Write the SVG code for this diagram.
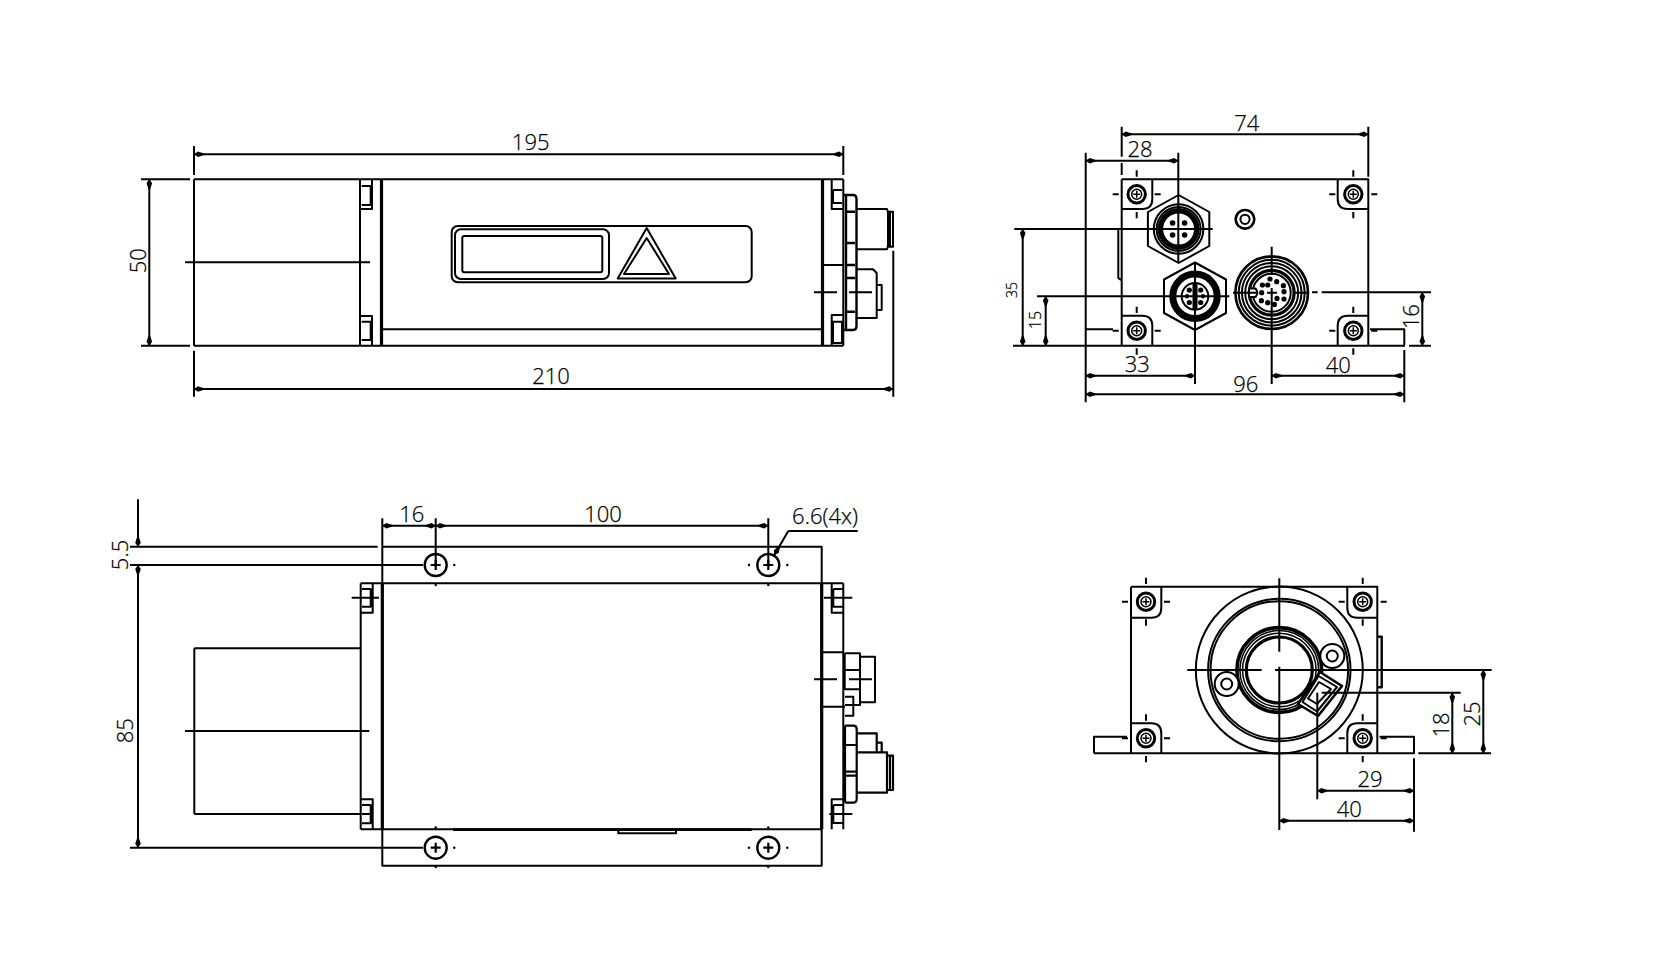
<svg xmlns="http://www.w3.org/2000/svg" width="1666" height="955" viewBox="0 0 1666 955">
<style>
.l{fill:none;stroke:#000;stroke-width:2;stroke-linejoin:round}
.w{fill:#fff;stroke:#000;stroke-width:2;stroke-linejoin:round}
.t{fill:none;stroke:#000;stroke-width:3.2;stroke-linejoin:round}
.n{fill:none;stroke:#000;stroke-width:1.5}
.d{fill:#000;stroke:none}
.a{marker-start:url(#ah);marker-end:url(#ah)}
.e{marker-end:url(#ah)}
text{font-family:"Open Sans","Noto Sans","DejaVu Sans",sans-serif;font-weight:300;font-size:22px;fill:#000;stroke:#000;stroke-width:.25;text-anchor:middle}
</style>
<defs>
<marker id="ah" markerUnits="userSpaceOnUse" markerWidth="12" markerHeight="8" refX="10" refY="4" orient="auto-start-reverse" overflow="visible"><path d="M10,4 L6,1.2 L0,3.2 L0,4.8 L6,6.8Z" fill="#000"/></marker>
<g id="screw">
<circle class="w" r="8.7" style="stroke-width:3"/><circle class="n" r="5"/><path class="n" d="M-3.5,0H3.5M0,-3.5V3.5"/>
<path class="l" d="M0,-24V-17.6M0,17.6V24M-24,0H-18M18,0H24"/>
</g>
<g id="hole"><circle class="w" r="11" style="stroke-width:2.4"/><path class="l" d="M-5,0H5M0,-5V5" style="stroke-width:2.2"/></g>
</defs>

<g id="front-view">
<path class="l" d="M194,179.3H843.3M194,345.7H843.3M194,179.3V345.7M360,179.3V345.7M185,262.3H370M382,329.3H822"/>
<path class="t" d="M381.5,179.3V345.7M822.5,179.3V345.7"/>
<path class="l" d="M360,209H372V179.3M361.7,186H370.7V205H361.7M360,316H372V345.7M361.7,321.7H370.7V340H361.7"/>
<rect class="l" x="451.7" y="226" width="300" height="56.3" rx="6"/>
<rect class="l" x="455" y="229.3" width="154" height="49.7" rx="6"/>
<rect class="l" x="462.3" y="236" width="140" height="36.3" rx="2"/>
<path class="l" d="M646.7,228L675.7,278.5H617.7Z"/>
<path class="l" d="M646.7,238L669,274H624Z"/>
<path class="l" d="M823,265H843M843.3,179.3V345.7M831.7,179.3V209H843M833,190V203H842M833,190H842M831.7,345.7V315H843M833,321.7H842V343H833Z"/>
<path class="l" d="M844,195H853Q856.5,195 856.5,199V326Q856.5,330 853,330H844M846,196V329M846,211.7H855M846,243H855M846,265H855M846,278H855M846,311.7H855" style="stroke-width:2.4"/>
<path class="l" d="M857,209H887L888,212V246L887,249.3H857M887,211.7H893V246.7H887M890,211.7V246.7M857,269.3H873L876.7,273V318H857M876.7,285H881.7V310H876.7M814,292.3H837M849,292.3H872"/>
</g>

<g id="right-view">
<path class="l" d="M1121.7,179.3H1368.3V345.7M1121.7,179.3V345.7M1013,345.7H1405M1085.7,329.3H1113M1370,329.3H1404.3V345M1118.3,229V278L1121,280"/>
<path class="l" d="M1121.7,209H1142.3Q1152.3,209 1152.3,199V179.3M1368.3,209H1347.7Q1337.7,209 1337.7,199V179.3M1121.7,315.7H1142.3Q1152.3,315.7 1152.3,325.7V345.7M1368.3,315.7H1347.7Q1337.7,315.7 1337.7,325.7V345.7"/>
<use href="#screw" x="1136.7" y="194.3"/><use href="#screw" x="1353.3" y="194.3"/><use href="#screw" x="1136.7" y="330.7"/><use href="#screw" x="1353.3" y="330.7"/>
<g id="conn-a">
<polygon class="l" points="1178.6,195 1209.3,212 1209.3,246 1178.6,263 1147.9,246 1147.9,212"/>
<circle class="l" cx="1178.6" cy="229" r="24.8"/><circle class="l" cx="1178.6" cy="229" r="22"/>
<circle cx="1178.6" cy="229" r="18.2" fill="none" stroke="#000" stroke-width="5.5"/>
<g class="d"><circle cx="1172.6" cy="223" r="2.8"/><circle cx="1184.6" cy="223" r="2.8"/><circle cx="1172.6" cy="235" r="2.8"/><circle cx="1184.6" cy="235" r="2.8"/></g>
</g>
<g id="conn-b">
<polygon class="l" points="1195,262.5 1226,279.5 1226,313 1195,330 1164,313 1164,279.5"/>
<circle cx="1195" cy="296.3" r="22.2" fill="none" stroke="#000" stroke-width="7"/>
<circle class="l" cx="1195" cy="296.3" r="13.3"/>
<g class="d"><circle cx="1189.3" cy="290" r="2.6"/><circle cx="1200.7" cy="290" r="2.6"/><circle cx="1189.3" cy="302.5" r="2.6"/><circle cx="1200.7" cy="302.5" r="2.6"/><circle cx="1187" cy="296.3" r="2.2"/><circle cx="1203" cy="296.3" r="2.2"/><rect x="1192.5" y="284" width="5" height="25"/></g>
</g>
<g id="conn-c">
<circle cx="1271.7" cy="292.7" r="36.3" fill="none" stroke="#000" stroke-width="2.6"/>
<circle class="l" cx="1271.7" cy="292.7" r="33"/><circle class="l" cx="1271.7" cy="292.7" r="29.8"/><circle class="l" cx="1271.7" cy="292.7" r="26.5"/>
<circle class="t" cx="1271.7" cy="292.7" r="22.4"/><circle class="l" cx="1271.7" cy="292.7" r="19"/>
<path d="M1250,288.5H1255.5Q1259,292.7 1255.5,297H1250Z" fill="#fff"/><path class="l" d="M1250,288.5H1255.5Q1259,292.7 1255.5,297H1250"/>
<g class="d"><circle cx="1270" cy="279" r="2.6"/><circle cx="1276.7" cy="281.7" r="2.6"/><circle cx="1283.4" cy="285.7" r="2.6"/><circle cx="1284" cy="291.7" r="2.6"/><circle cx="1284" cy="299" r="2.6"/><circle cx="1277" cy="298.4" r="2.6"/><circle cx="1274.4" cy="304.4" r="2.6"/><circle cx="1267.7" cy="302.7" r="2.6"/><circle cx="1261.4" cy="300.7" r="2.6"/><circle cx="1261.7" cy="292.7" r="2.6"/><circle cx="1262.4" cy="285" r="2.6"/><circle cx="1267.7" cy="285" r="2.6"/></g>
</g>
<g id="pin">
<circle class="l" cx="1245" cy="219.3" r="9.3" style="stroke-width:2.6"/><circle class="l" cx="1245" cy="219.3" r="4.6"/>
</g>
</g>

<g id="plan-view">
<path class="l" d="M382.3,546.7H821.7V865.7H382.3V546.7M382.3,583.3H821.7M382.3,829.3H821.7"/>
<path class="t" d="M382.3,583.3V829.3M821.7,583.3V829.3"/>
<path class="l" d="M453,829.6H751.7" style="stroke-width:2.6"/>
<path class="l" d="M618.3,829.5V833.3H676V829.5"/>
<path class="l" d="M194.3,648.3H360.7M194.3,814H360.7M194.3,648.3V814M360.7,583.3V829.3M185,731H369.3M360.7,583.3H382M360.7,829.3H382M360.7,612.7H372.7V583.3M362,589H370.7V606.7H362M362,597.7H370.7M351.7,597.7H379M360.7,799.3H372.7V829.3M362,805H370.7V823.3H362M362,814H370.7M351.7,814H360"/>
<path class="l" d="M843.3,583.3V829.3M821.7,583.3H843.3M831.7,583.3V612.7H843M833.3,589H843M833.3,589V606.7H843M824,597.7H852.3M831.7,829.3V799.3H843M833.3,805H843M833.3,805V823H843M829.3,814H852.3"/>
<path class="l" d="M823,652.3H843M823,706.7H845M845,653.3H860V705H845M845,670H860M845,689.3H860M860,656.7H875V702.3H860M814,679.3H837M849,679.3H872M845,696.7H853.3V715.7H845M844.7,653V690"/>
<path class="l" d="M846,725.7H853Q856.7,725.7 856.7,729V799Q856.7,802.7 853,802.7H846Q845,802.7 845,799V729Q845,725.7 846,725.7M845,745H856.7M845,771.7H856.7M845,775.7H856.7M857,733.3H876.7V752.3M876.7,742.7H881.7V752.3M857,752.3H887V792.7H857M887,755.7H893V790H887M890,755.7V790" style="stroke-width:2.2"/>
<use href="#hole" x="435.7" y="565"/><use href="#hole" x="768.3" y="565"/><use href="#hole" x="435.7" y="847.7"/><use href="#hole" x="768.3" y="847.7"/>
<g class="d"><circle cx="454.3" cy="565" r="1.2"/><circle cx="749" cy="565" r="1.2"/><circle cx="787.3" cy="565" r="1.2"/><circle cx="454.3" cy="847.7" r="1.2"/><circle cx="749" cy="847.7" r="1.2"/><circle cx="787.3" cy="847.7" r="1.2"/><circle cx="435.7" cy="585" r="1.2"/><circle cx="768.3" cy="585" r="1.2"/><circle cx="435.7" cy="827.5" r="1.2"/><circle cx="768.3" cy="827.5" r="1.2"/><circle cx="435.7" cy="867" r="1.2"/><circle cx="768.3" cy="867" r="1.2"/></g>
</g>

<g id="rear-view">
<path class="l" d="M1131,586.7H1377.3V753.3M1131,586.7V753.3M1094,753.3H1414V736.7H1379.5M1094,753.3V736.7H1127"/>
<path class="l" d="M1377.3,636.7H1381.7V687.3H1377.3" style="stroke-width:2.4"/>
<path class="l" d="M1131,617.7H1151.3Q1161.3,617.7 1161.3,607.7V586.7M1377.3,617.7H1357.3Q1347.3,617.7 1347.3,607.7V586.7M1131,723.3H1151.3Q1161.3,723.3 1161.3,733.3V753.3M1377.3,723.3H1357.3Q1347.3,723.3 1347.3,733.3V753.3"/>
<use href="#screw" x="1146" y="601.7"/><use href="#screw" x="1362.7" y="601.7"/><use href="#screw" x="1146" y="738.3"/><use href="#screw" x="1362.7" y="738.3"/>
<circle class="l" cx="1279.3" cy="670" r="83.5"/>
<circle class="l" cx="1279.3" cy="670" r="71.2"/><circle class="l" cx="1279.3" cy="670" r="68.8"/>
<circle cx="1279.3" cy="670" r="42.4" fill="none" stroke="#000" stroke-width="3.6"/><circle class="n" cx="1279.3" cy="670" r="39.4"/><circle class="n" cx="1279.3" cy="670" r="36.8"/><circle class="t" cx="1279.3" cy="670" r="33"/>
<polygon class="w" points="1320,672 1342,686 1318,716 1298,704" style="stroke-width:2.6"/>
<polygon class="l" points="1318.5,676 1337,687 1317,711.5 1302.5,702"/>
<polygon class="l" points="1319,682 1331,689 1317,704 1308,698.5"/>
<circle class="w" cx="1332.3" cy="656" r="12"/><circle class="l" cx="1332.3" cy="656" r="5.5"/>
<circle class="w" cx="1226.7" cy="684" r="12"/><circle class="l" cx="1226.7" cy="684" r="5.5"/>
</g>

<g id="connectors" class="l">
<path d="M194,146V175M843.3,146V175M194,350.7V396.7M893.3,250.7V396.7M141,179.3H190M141,345.7H190"/>
<path class="a" d="M194,154.3H843.3"/><path class="a" d="M194,389H893.3"/><path class="a" d="M149.3,179.3V345.7"/>
<path d="M1121.7,126.7V156.7M1121.7,163V175M1368.3,126.7V176.7M1085.7,152.7V402.3M1178.3,152.7V263M1014.3,229H1212.7M1037,296.3H1229.3M1195,263V384M1271.7,246.7V275M1271.7,288V384M1404.3,350V402.3M1233,292.7H1256M1267,292.7H1277M1295,292.7H1309M1312,292.3H1317.7M1321.7,292.3H1431M1409,345.7H1431"/>
<path class="a" d="M1121.7,134.3H1368.3"/><path class="a" d="M1085.7,160.7H1178.3"/><path class="a" d="M1022.7,229V345.7"/><path class="a" d="M1045.7,296.3V345.7"/><path class="a" d="M1085.7,375.7H1195"/><path class="a" d="M1085.7,394.3H1404.3"/><path class="a" d="M1271.7,375.7H1404.3"/><path class="a" d="M1422.3,292.3V345.7"/>
<path d="M130,546.7H377.7M130,565H423M130,847.7H423M382.3,518.3V546.7M435.7,518.3V565M768.3,518.3V565M788.3,531H857.7"/>
<path class="e" d="M138,499.3V546.7"/><path class="a" d="M138,565V847.7"/><path class="a" d="M382.3,525.7H435.7"/><path class="a" d="M435.7,525.7H768.3"/><path class="e" d="M788.3,531L774.3,555"/>
<path d="M1279.3,578.3V651.7M1279.3,666.7V830M1187.3,670H1261.7M1275,670H1491.7M1418.3,753.3H1491M1321.7,692.7H1460.7M1317.3,692.7V799.3M1414,758.3V831.7"/>
<path class="a" d="M1483.3,670V753.3"/><path class="a" d="M1452.3,692.7V753.3"/><path class="a" d="M1317.3,790.7H1414"/><path class="a" d="M1279.3,820.7H1414"/>
</g>

<g id="labels">
<text x="530.7" y="150">195</text>
<text x="551" y="384">210</text>
<text transform="translate(145.7 260.7) rotate(-90)">50</text>
<text x="1246.7" y="131">74</text>
<text x="1140" y="157.3">28</text>
<text x="1137.3" y="371.7">33</text>
<text x="1245.7" y="391.7">96</text>
<text x="1338.3" y="373.3">40</text>
<text transform="translate(1017 290) rotate(-90)" style="font-size:14px">35</text>
<text transform="translate(1040.7 320) rotate(-90)" style="font-size:16px">15</text>
<text transform="translate(1419 316.7) rotate(-90)">16</text>
<text x="411.7" y="522.3">16</text>
<text x="603" y="522.3">100</text>
<text x="825" y="524.3">6.6(4x)</text>
<text transform="translate(127.5 555) rotate(-90)">5.5</text>
<text transform="translate(133.3 730.7) rotate(-90)">85</text>
<text transform="translate(1480 714) rotate(-90)">25</text>
<text transform="translate(1449.3 725) rotate(-90)">18</text>
<text x="1370" y="787.3">29</text>
<text x="1349.3" y="817.3">40</text>
</g>
</svg>
